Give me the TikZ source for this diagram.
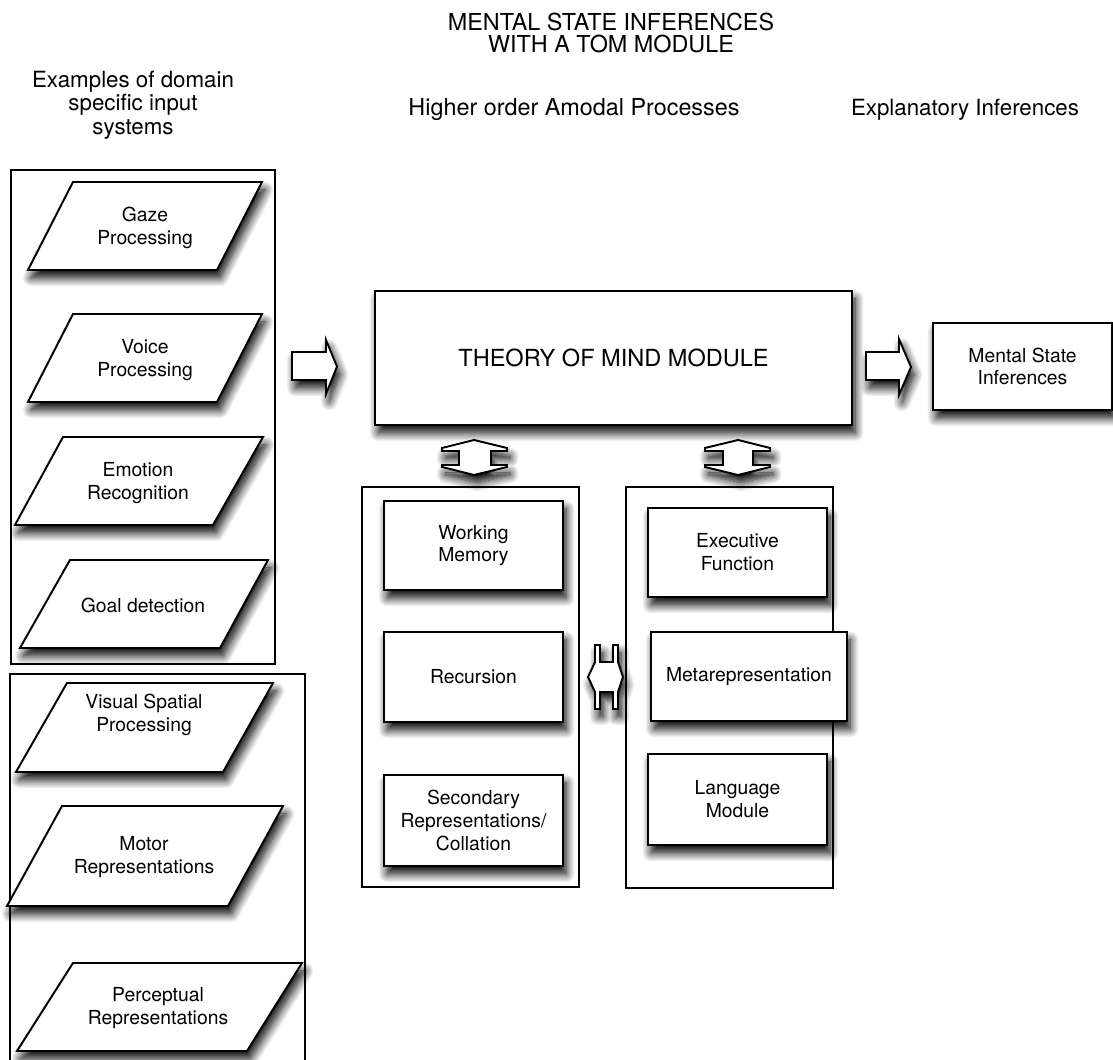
\documentclass[tikz,border=0pt]{standalone}
\usepackage{fontspec}
\setmainfont{TeX Gyre Heros}
\usetikzlibrary{shadows.blur}
\begin{document}
\begin{tikzpicture}[x=0.02cm,y=-0.02cm,
  shad/.style={blur shadow={shadow xshift=1.8pt,shadow yshift=-4.5pt,shadow blur radius=5pt,shadow opacity=100,shadow blur steps=12}},
  paraline/.style={draw, line width=1.1pt, fill=white, shad, line join=miter},
  txt/.style={align=center, font=\fontsize{11}{13}\selectfont, inner sep=0pt},
  box/.style={draw, line width=1.1pt, fill=white, shad, align=center,
     font=\fontsize{11}{13}\selectfont, inner sep=0pt, outer sep=0pt},
  frame/.style={draw, line width=0.9pt},
  hdr/.style={align=center, font=\fontsize{12.7}{13.3}\selectfont, inner sep=0pt},
  blk/.style={draw, line width=1.1pt, fill=white, shad, line join=miter}
]
\useasboundingbox (0,0) rectangle (1113,1060);

% headers
\node[hdr, font=\fontsize{13.3}{13}\selectfont] (title) at (611,33) {MENTAL STATE INFERENCES\\WITH A TOM MODULE};
\node[hdr] (hleft) at (133,105) {Examples of domain\\specific input\\systems};
\node[hdr, font=\fontsize{13.3}{14}\selectfont] (hmid) at (574,110) {Higher order Amodal Processes};
\node[hdr] (hright) at (965,110) {Explanatory Inferences};

% frames
\draw[frame] (11,170) rectangle (275,664);
\draw[frame] (10,1064) -- (10,674) -- (305,674) -- (305,1064);
\draw[frame] (362,487) rectangle (579,887);
\draw[frame] (626,487) rectangle (833,888);

% input systems (parallelograms)
\draw[paraline] (73,182) -- (262,182) -- (217,270) -- (28,270) -- cycle;
\node[txt] (gaze) at (145,228) {Gaze\\Processing};
\draw[paraline] (73,314) -- (262,314) -- (217,402) -- (28,402) -- cycle;
\node[txt] (voice) at (145,360) {Voice\\Processing};
\draw[paraline] (63,437) -- (263,437) -- (213,525) -- (15,525) -- cycle;
\node[txt] (emo) at (138,483) {Emotion\\Recognition};
\draw[paraline] (70,560) -- (268,560) -- (220,648) -- (20,648) -- cycle;
\node[txt] (goal) at (143,605) {Goal detection};
\draw[paraline] (67,683) -- (273,683) -- (223,772) -- (16,772) -- cycle;
\node[txt] (vsp) at (144,715) {Visual Spatial\\Processing};
\draw[paraline] (62,806) -- (283,806) -- (228,906) -- (7,906) -- cycle;
\node[txt] (motor) at (144,857) {Motor\\Representations};
\draw[paraline] (73,963) -- (302,963) -- (247,1051) -- (17,1051) -- cycle;
\node[txt] (perc) at (158,1008) {Perceptual\\Representations};

% central
\node[box, minimum width=9.54cm, minimum height=2.68cm, font=\fontsize{13.4}{15}\selectfont] (tom) at (613.5,358) {THEORY OF MIND MODULE};
\node[box, minimum width=3.58cm, minimum height=1.74cm] (msi) at (1022.5,366.5) {Mental State\\Inferences};

\node[box, minimum width=3.58cm, minimum height=1.78cm] (wm) at (473.5,545.5) {Working\\Memory};
\node[box, minimum width=3.58cm, minimum height=1.80cm] (rec) at (473.5,677) {Recursion};
\node[box, minimum width=3.58cm, minimum height=1.82cm] (sec) at (473.5,820.5) {Secondary\\Representations/\\Collation};

\node[box, minimum width=3.58cm, minimum height=1.78cm] (exe) at (737.5,552.5) {Executive\\Function};
\node[box, minimum width=3.92cm, minimum height=1.78cm] (meta) at (749,676.5) {Metarepresentation};
\node[box, minimum width=3.58cm, minimum height=1.82cm] (lang) at (737.5,799.5) {Language\\Module};

% block arrows
\draw[blk] (292,352) -- (326,352) -- (326,340) -- (337,366.5) -- (326,394) -- (326,380) -- (292,380) -- cycle;
\draw[blk] (866,352) -- (899,352) -- (899,339) -- (911,367) -- (899,395) -- (899,380) -- (866,380) -- cycle;

\draw[blk] (474,440) -- (442,448) -- (442,451) -- (459,451) -- (459,465) -- (442,465) -- (442,467) -- (474,475)
  -- (507,467) -- (507,465) -- (491,465) -- (491,451) -- (507,451) -- (507,448) -- cycle;
\draw[blk] (738,440) -- (705,448) -- (705,451) -- (723,451) -- (723,465) -- (705,465) -- (705,467) -- (738,475)
  -- (770,467) -- (770,465) -- (753,465) -- (753,451) -- (770,451) -- (770,448) -- cycle;

\draw[blk] (588,677) -- (595,662) -- (595,645) -- (600,645) -- (600,662) -- (613,662) -- (613,645) -- (618,645)
  -- (618,662) -- (623,677) -- (618,692) -- (618,709) -- (613,709) -- (613,692) -- (600,692) -- (600,709)
  -- (595,709) -- (595,692) -- cycle;
\end{tikzpicture}
\end{document}
